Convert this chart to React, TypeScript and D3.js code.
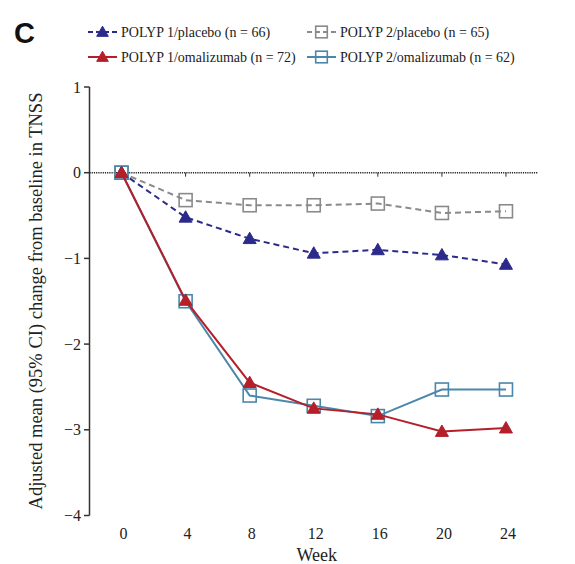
import React from "react";
import * as d3 from "d3";

const weeks = [0, 4, 8, 12, 16, 20, 24];
const polyp1Placebo = [0, -0.52, -0.77, -0.94, -0.9, -0.96, -1.07];
const polyp2Placebo = [0, -0.32, -0.38, -0.38, -0.36, -0.47, -0.45];
const polyp1Omalizumab = [0, -1.49, -2.45, -2.75, -2.82, -3.02, -2.98];
const polyp2Omalizumab = [0, -1.5, -2.6, -2.72, -2.84, -2.53, -2.53];
const yTicks = [1, 0, -1, -2, -3, -4];
const yTickLabels = ["1", "0", "\u22121", "\u22122", "\u22123", "\u22124"];
const legendLabels = [
  "POLYP 1/placebo (n = 66)",
  "POLYP 2/placebo (n = 65)",
  "POLYP 1/omalizumab (n = 72)",
  "POLYP 2/omalizumab (n = 62)",
];

const W = 575;
const H = 564;
const serif = "'Liberation Serif', 'Times New Roman', serif";

const NAVY = "#2c2a8a";
const GRAY = "#8a8a8a";
const RED = "#b41f2a";
const BLUE = "#4b87aa";

type Series = {
  values: number[];
  color: string;
  dash?: string;
  marker: "tri" | "sq";
  label: string;
};

const series: Series[] = [
  { values: polyp2Placebo, color: GRAY, dash: "6,4", marker: "sq", label: legendLabels[1] },
  { values: polyp1Placebo, color: NAVY, dash: "6,4", marker: "tri", label: legendLabels[0] },
  { values: polyp2Omalizumab, color: BLUE, marker: "sq", label: legendLabels[3] },
  { values: polyp1Omalizumab, color: RED, marker: "tri", label: legendLabels[2] },
];

function Marker({ kind, x, y, color, s = 6.5 }: { kind: "tri" | "sq"; x: number; y: number; color: string; s?: number }) {
  if (kind === "tri") {
    const path = `M${x},${y - s}L${x + s},${y + s * 0.75}L${x - s},${y + s * 0.75}Z`;
    return <path d={path} fill={color} stroke={color} strokeWidth={1} />;
  }
  return (
    <rect x={x - s} y={y - s} width={2 * s} height={2 * s} fill="none" stroke={color} strokeWidth={1.6} />
  );
}

export default function App() {
  const x = d3.scaleLinear().domain([-2, 26]).range([89.5, 538]);
  const y = d3.scaleLinear().domain([-4, 1]).range([515.5, 87]);

  const line = d3
    .line<number>()
    .x((_, i) => x(weeks[i]))
    .y((d) => y(d));

  const legendPos = [
    { lx: 88, ly: 32 },
    { lx: 307, ly: 32 },
    { lx: 88, ly: 57 },
    { lx: 307, ly: 57 },
  ];
  const legendOrder = [1, 0, 3, 2]; // series index per legend slot

  return (
    <svg width={W} height={H} style={{ position: "absolute", left: 0, top: 0, background: "#fff" }}>
      {/* panel letter */}
      <text x={14} y={43} fontFamily="'Liberation Sans', Arial, sans-serif" fontWeight="bold" fontSize={29} fill="#111">
        C
      </text>

      {/* legend */}
      {legendPos.map((p, k) => {
        const s = series[legendOrder[k]];
        return (
          <g key={k}>
            <line
              x1={p.lx}
              x2={p.lx + 29}
              y1={p.ly}
              y2={p.ly}
              stroke={s.color}
              strokeWidth={2}
              strokeDasharray={s.dash ? "5,3" : undefined}
            />
            <Marker kind={s.marker} x={p.lx + 14.5} y={p.ly} color={s.color} s={5.8} />
            <text x={p.lx + 33} y={p.ly + 5} fontFamily={serif} fontSize={14} fill="#222">
              {s.label}
            </text>
          </g>
        );
      })}

      {/* y axis */}
      <line x1={89.5} x2={89.5} y1={y(1)} y2={y(-4)} stroke="#333" strokeWidth={1.5} />
      {yTicks.map((t, i) => (
        <g key={t}>
          <line x1={84} x2={89.5} y1={y(t)} y2={y(t)} stroke="#333" strokeWidth={1.5} />
          <text x={81} y={y(t) + 5.5} textAnchor="end" fontFamily={serif} fontSize={16} fill="#222">
            {yTickLabels[i]}
          </text>
        </g>
      ))}
      <text
        transform={`translate(42,301) rotate(-90)`}
        textAnchor="middle"
        fontFamily={serif}
        fontSize={18.5}
        fill="#222"
      >
        Adjusted mean (95% CI) change from baseline in TNSS
      </text>

      {/* zero reference line with week ticks */}
      <line x1={89.5} x2={538} y1={y(0)} y2={y(0)} stroke="#222" strokeWidth={1.6} strokeDasharray="1.2,1" />
      {weeks.map((w) => (
        <line key={w} x1={x(w)} x2={x(w)} y1={y(0)} y2={y(0) + 4} stroke="#333" strokeWidth={1} />
      ))}

      {/* x tick labels and title */}
      {weeks.map((w) => (
        <text key={w} x={x(w) + 2} y={539} textAnchor="middle" fontFamily={serif} fontSize={16} fill="#222">
          {w}
        </text>
      ))}
      <text x={x(12) + 3} y={561} textAnchor="middle" fontFamily={serif} fontSize={18} fill="#222">
        Week
      </text>

      {/* series */}
      {series.map((s, k) => (
        <g key={k}>
          <path
            d={line(s.values) || ""}
            fill="none"
            stroke={s.color}
            strokeWidth={2}
            strokeDasharray={s.dash}
          />
          {s.values.map((v, i) => (
            <Marker key={i} kind={s.marker} x={x(weeks[i])} y={y(v)} color={s.color} />
          ))}
        </g>
      ))}
    </svg>
  );
}
